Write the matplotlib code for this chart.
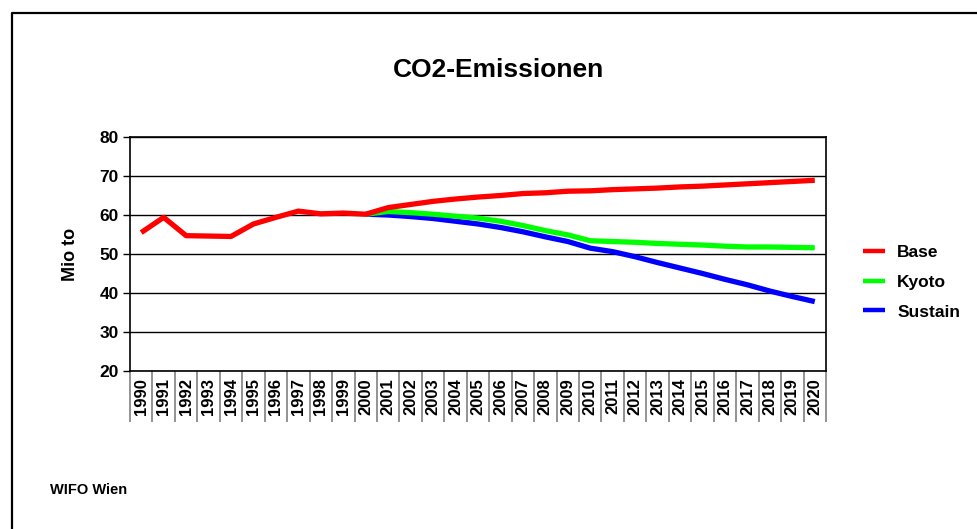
import numpy as np
import matplotlib
matplotlib.use('Agg')
import matplotlib.pyplot as plt
from matplotlib.lines import Line2D
from matplotlib.ticker import FixedLocator, NullFormatter

plt.rcParams['font.family'] = ['Liberation Sans', 'DejaVu Sans']

years = list(range(1990, 2021))
base = [55.5, 59.4, 54.7, 54.6, 54.5, 57.7, 59.4, 61.0, 60.3, 60.5, 60.2,
        61.9, 62.7, 63.5, 64.1, 64.6, 65.0, 65.5, 65.7, 66.1, 66.2,
        66.5, 66.7, 66.9, 67.2, 67.4, 67.7, 68.0, 68.3, 68.6, 68.9]
kyoto_years = list(range(2000, 2021))
kyoto = [60.2, 60.9, 60.6, 60.2, 59.7, 59.2, 58.4, 57.3, 56.0, 54.9, 53.4,
         53.2, 53.0, 52.7, 52.5, 52.3, 52.0, 51.8, 51.8, 51.7, 51.6]
sustain = [60.2, 60.0, 59.6, 59.1, 58.4, 57.7, 56.8, 55.7, 54.4, 53.2, 51.5,
           50.6, 49.3, 47.8, 46.4, 45.0, 43.5, 42.1, 40.5, 39.1, 37.8]

fig = plt.figure(figsize=(9.78, 5.29), dpi=100)
ax = fig.add_axes([130/978, 1-371/529, 696/978, 234/529])

x_all = np.arange(len(years))
x_k = np.array([years.index(y) for y in kyoto_years])

ax.plot(x_k, sustain, color='#0000ff', lw=3.8, solid_capstyle='butt', label='Sustain', zorder=3)
ax.plot(x_k, kyoto, color='#00ff00', lw=3.8, solid_capstyle='butt', label='Kyoto', zorder=4)
ax.plot(x_all, base, color='#ff0000', lw=3.8, solid_capstyle='butt', label='Base', zorder=5)

ax.set_xlim(-0.5, len(years) - 0.5)
ax.set_ylim(20, 80)
ax.set_yticks(range(20, 81, 10))
ax.yaxis.grid(True, color='black', lw=1)
ax.set_axisbelow(True)
for s in ax.spines.values():
    s.set_color('black')
    s.set_linewidth(1.2)

ax.tick_params(axis='y', length=5, width=1, pad=3, labelsize=12.5)
for lb in ax.get_yticklabels():
    lb.set_fontweight('bold')

ax.set_xticks(x_all)
ax.set_xticklabels([str(y) for y in years], rotation=90, fontweight='bold', fontsize=12)
ax.tick_params(axis='x', which='major', length=0, pad=5)
ax.xaxis.set_minor_locator(FixedLocator(np.arange(-0.5, len(years), 1.0)))
ax.xaxis.set_minor_formatter(NullFormatter())
ax.tick_params(axis='x', which='minor', length=37, width=1.2, color='#808080')

ax.set_ylabel('Mio to', fontsize=13, fontweight='bold', labelpad=15)

handles, labels = ax.get_legend_handles_labels()
order = [2, 1, 0]
leg = ax.legend([handles[i] for i in order], [labels[i] for i in order],
                loc='center left', bbox_to_anchor=(1.03, 0.38), frameon=False,
                prop={'weight': 'bold', 'size': 12.5}, handlelength=1.3,
                handletextpad=0.7, labelspacing=0.85)
for h in leg.get_lines():
    h.set_linewidth(3.2)

fig.text(499/978, 1-70/529, 'CO2-Emissionen', ha='center', va='center',
         fontsize=19, fontweight='bold')
fig.text(50/978, 1-490/529, 'WIFO Wien', ha='left', va='center',
         fontsize=10.5, fontweight='bold')

fig.add_artist(Line2D([12/978, 12/978, 1.0], [0.0, 1-13/529, 1-13/529],
                      transform=fig.transFigure, color='black', lw=1.6))

plt.savefig('out.png', dpi=100)
